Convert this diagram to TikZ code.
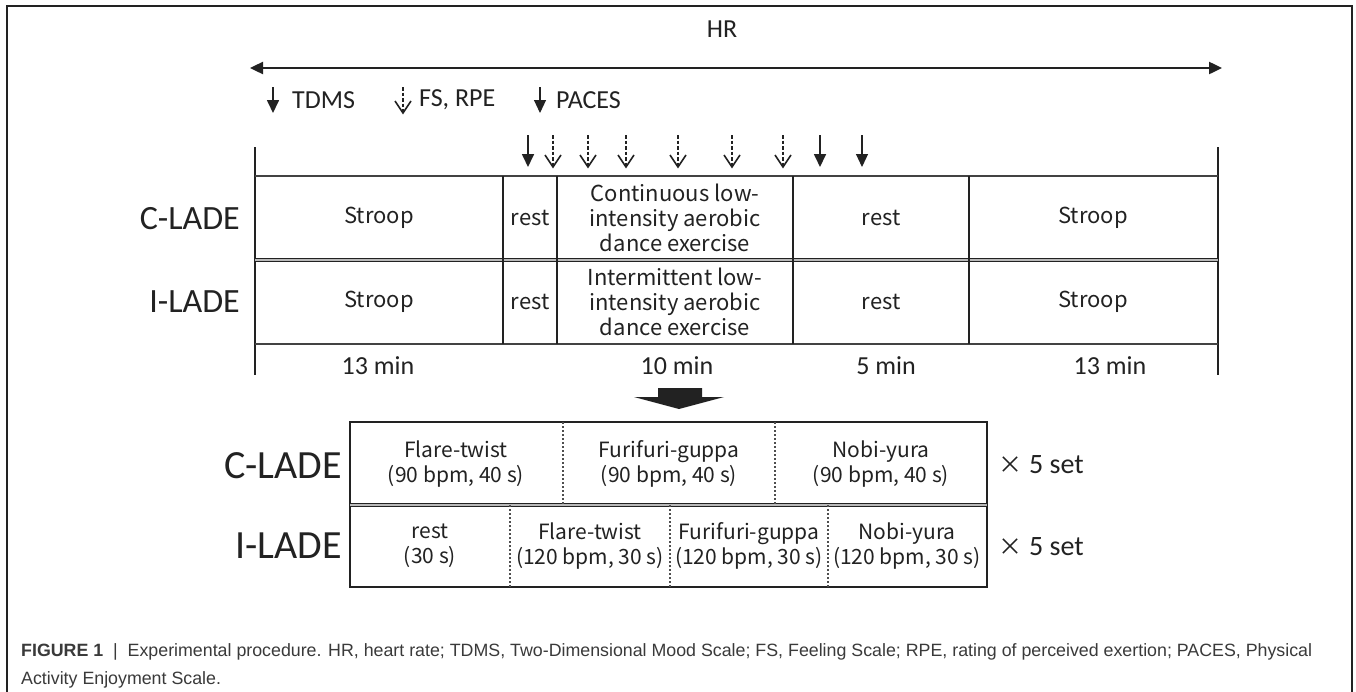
\documentclass[tikz,border=0pt]{standalone}
\usepackage{fontspec}
\setmainfont{Carlito}
\newfontfamily\jpfont{Noto Sans CJK JP}
\newfontfamily\capfont{Liberation Sans}
\usetikzlibrary{arrows.meta}
\definecolor{ink}{HTML}{222222}
\definecolor{capgray}{HTML}{3A3A3A}
\begin{document}
\begin{tikzpicture}[x=1pt,y=-1pt,
  lbl/.style={font=\fontsize{26}{28}\selectfont, text=ink, inner sep=0},
  rowlbl/.style={font=\fontsize{34}{38}\selectfont, text=ink, anchor=east, inner sep=0},
  bigrow/.style={font=\fontsize{40}{44}\selectfont, text=ink, anchor=east, inner sep=0},
  cell/.style={font=\jpfont\fontsize{22}{25}\selectfont, text=ink, align=center, inner sep=0},
  scell/.style={font=\jpfont\fontsize{21}{25}\selectfont, text=ink, align=center, inner sep=0},
  tline/.style={draw=ink, line width=1.5pt},
  hline/.style={draw=ink!85, line width=2pt},
  midline/.style={draw=ink, line width=1.1pt, double=gray!55, double distance=1.6pt},
  dotline/.style={draw=ink!80, line width=1.1pt, dash pattern=on 2pt off 2pt},
  arrs/.style={draw=ink, line width=1.7pt, -{Triangle[length=13pt,width=12pt]}},
  arrp/.style={draw=ink, line width=1.1pt, -{Triangle[length=13pt,width=12pt]}},
  dshaft/.style={draw=ink, line width=1.4pt, dash pattern=on 3.5pt off 2pt},
  vhead/.style={draw=ink, line width=1.6pt, line join=miter},
  hrarrow/.style={draw=ink, line width=2.4pt, {Triangle[length=13pt,width=12pt]}-{Triangle[length=13pt,width=12pt]}}
]
\useasboundingbox (0,0) rectangle (1356,691);
\fill[white] (0,0) rectangle (1356,691);
% frame
\draw[ink, line width=1.3pt] (7,700) -- (7,6) -- (1352,6) -- (1352,700);

% HR
\node[lbl] (hr) at (722,29) {HR};
\coordinate (hrL) at (250,68);
\coordinate (hrR) at (1222,68);
\draw[hrarrow] (hrL) -- (hrR);

% legend
\coordinate (la1) at (273,87); \coordinate (lb1) at (273,113);
\coordinate (la2) at (403,87); \coordinate (lb2) at (403,113);
\coordinate (la3) at (540,87); \coordinate (lb3) at (540,113);
\draw[arrs] (la1) -- (lb1);
\draw[dshaft] (la2) -- (lb2);
\draw[vhead] ([xshift=-8pt,yshift=12pt]lb2) -- (lb2) -- ([xshift=8pt,yshift=12pt]lb2);
\draw[arrp] (la3) -- (lb3);
\node[lbl, anchor=west] (tdms) at (292,100) {TDMS};
\node[lbl, anchor=west] (fsrpe) at (419,100) {FS, RPE};
\node[lbl, anchor=west] (paces) at (556,100) {PACES};

% measurement arrows: solid (TDMS)
\foreach \x [count=\i] in {528,820}{
  \coordinate (sa\i) at (\x,135);
  \coordinate (sb\i) at (\x,167);
  \draw[arrs] (sa\i) -- (sb\i);
}
% dashed open (FS, RPE)
\foreach \x [count=\i] in {553,588,626,678,732,783}{
  \coordinate (da\i) at (\x,135);
  \coordinate (db\i) at (\x,167);
  \draw[dshaft] (da\i) -- (db\i);
  \draw[vhead] ([xshift=-8pt,yshift=12pt]db\i) -- (db\i) -- ([xshift=8pt,yshift=12pt]db\i);
}
% PACES
\coordinate (pa1) at (862,135);
\coordinate (pb1) at (862,167);
\draw[arrp] (pa1) -- (pb1);

% main table
\draw[tline] (255,147) -- (255,375);
\draw[tline] (1218,147) -- (1218,375);
\draw[hline] (255,176) -- (1218,176);
\draw[midline] (255,260) -- (1218,260);
\draw[hline] (255,344) -- (1218,344);
\foreach \x in {503,557,793,969}{
  \draw[tline] (\x,176) -- (\x,344);
}

\node[rowlbl] (clade) at (240,219) {C-LADE};
\node[rowlbl] (ilade) at (240,302) {I-LADE};

\node[cell] (c1) at (379,218) {Stroop};
\node[cell] (c2) at (530,218) {rest};
\node[cell] (c3) at (675,218) {Continuous low-\\intensity aerobic\\dance exercise};
\node[cell] (c4) at (881,218) {rest};
\node[cell] (c5) at (1093,218) {Stroop};

\node[cell] (i1) at (379,302) {Stroop};
\node[cell] (i2) at (530,302) {rest};
\node[cell] (i3) at (675,302) {Intermittent low-\\intensity aerobic\\dance exercise};
\node[cell] (i4) at (881,302) {rest};
\node[cell] (i5) at (1093,302) {Stroop};

\node[lbl] (m1) at (378,366) {13 min};
\node[lbl] (m2) at (677,366) {10 min};
\node[lbl] (m3) at (886,366) {5 min};
\node[lbl] (m4) at (1110,366) {13 min};

% block arrow
\fill[ink] (658,388) -- (702,388) -- (702,397) -- (724,397) -- (679,409) -- (634,397) -- (658,397) -- cycle;

% lower table
\draw[tline] (350,422) rectangle (987,587);
\draw[midline] (350,505) -- (987,505);
\draw[dotline] (563,422) -- (563,505);
\draw[dotline] (775,422) -- (775,505);
\draw[dotline] (510,505) -- (510,587);
\draw[dotline] (670,505) -- (670,587);
\draw[dotline] (828,505) -- (828,587);

\node[bigrow] (clade2) at (342,466) {C-LADE};
\node[bigrow] (ilade2) at (342,546) {I-LADE};

\node[scell] (d1) at (456,464) {Flare-twist\\(90 bpm, 40 s)};
\node[scell] (d2) at (669,464) {Furifuri-guppa\\(90 bpm, 40 s)};
\node[scell] (d3) at (881,464) {Nobi-yura\\(90 bpm, 40 s)};

\node[scell] (e1) at (430,546) {rest\\(30 s)};
\node[scell] (e2) at (590,546) {Flare-twist\\(120 bpm, 30 s)};
\node[scell] (e3) at (749,546) {Furifuri-guppa\\(120 bpm, 30 s)};
\node[scell] (e4) at (907,546) {Nobi-yura\\(120 bpm, 30 s)};

\node[lbl, anchor=west, font=\fontsize{28}{30}\selectfont] (set1) at (998,465) {{\jpfont\fontsize{24}{26}\selectfont ×}\hspace{7pt}5 set};
\node[lbl, anchor=west, font=\fontsize{28}{30}\selectfont] (set2) at (998,547) {{\jpfont\fontsize{24}{26}\selectfont ×}\hspace{7pt}5 set};

% caption
\node[anchor=west, font=\capfont\fontsize{17.8}{28}\selectfont, text=capgray, align=left, inner sep=0] (cap) at (21,666)
 {\textbf{FIGURE 1}\ \ |\ \ Experimental procedure. HR, heart rate; TDMS, Two-Dimensional Mood Scale; FS, Feeling Scale; RPE, rating of perceived exertion; PACES, Physical\\Activity Enjoyment Scale.};
\end{tikzpicture}
\end{document}
